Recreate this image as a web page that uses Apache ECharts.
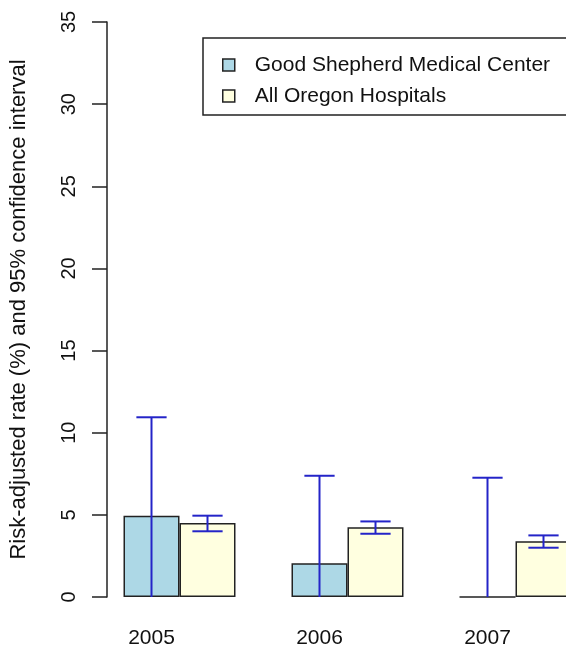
<!DOCTYPE html>
<html>
<head>
<meta charset="utf-8">
<script src="https://cdn.jsdelivr.net/npm/echarts@6/dist/echarts.min.js"></script>
<style>html,body{margin:0;padding:0;background:#fff;width:566px;height:656px;overflow:hidden;}#c{width:600px;height:656px;}</style>
</head>
<body>
<div id="c"></div>
<script>
var years = ['2005', '2006', '2007'];
var seriesNames = ['Good Shepherd Medical Center', 'All Oregon Hospitals'];
var gsValues = [4.95, 2.05, 0];
var gsLow = [0, 0, 0];
var gsHigh = [10.94, 7.38, 7.26];
var orValues = [4.5, 4.25, 3.4];
var orLow = [4.0, 3.85, 3.0];
var orHigh = [4.95, 4.6, 3.75];
var yTicks = [0, 5, 10, 15, 20, 25, 30, 35];

var FONT = 'Liberation Sans, Arial, sans-serif';
var ERR = '#2424c8';

function errSeries(low, high, side) {
  var data = years.map(function (y, i) { return [i, low[i], high[i]]; });
  return {
    type: 'custom',
    silent: true,
    z: 10,
    data: data,
    encode: { x: 0, y: [1, 2] },
    renderItem: function (params, api) {
      var idx = api.value(0);
      var band = api.size([1, 0])[0];
      var pLow = api.coord([idx, api.value(1)]);
      var pHigh = api.coord([idx, api.value(2)]);
      var cx = pLow[0] + side * band / 6;
      var half = band * 0.09;
      var st = { stroke: ERR, lineWidth: 2 };
      var children = [
        { type: 'line', shape: { x1: cx, y1: pLow[1], x2: cx, y2: pHigh[1] }, style: st },
        { type: 'line', shape: { x1: cx - half, y1: pHigh[1], x2: cx + half, y2: pHigh[1] }, style: st }
      ];
      if (api.value(1) > 0) {
        children.push({ type: 'line', shape: { x1: cx - half, y1: pLow[1], x2: cx + half, y2: pLow[1] }, style: st });
      }
      return { type: 'group', children: children };
    }
  };
}

var chart = echarts.init(document.getElementById('c'));
chart.setOption({
  animation: false,
  backgroundColor: '#fff',
  textStyle: { fontFamily: FONT },
  grid: { left: 95.5, top: 22, width: 504, height: 575, containLabel: false },
  legend: {
    data: seriesNames,
    orient: 'vertical',
    left: 203,
    top: 38,
    backgroundColor: '#fff',
    borderColor: '#222',
    borderWidth: 1.5,
    borderRadius: 0,
    padding: [16.5, 40, 8.5, 19],
    itemGap: 10,
    itemWidth: 12,
    itemHeight: 12,
    icon: 'rect',
    itemStyle: { borderColor: '#222', borderWidth: 1.5 },
    textStyle: { fontSize: 21, color: '#111', fontFamily: FONT, padding: [0, 0, 0, 15], lineHeight: 21 },
    selectedMode: false
  },
  xAxis: {
    type: 'category',
    data: years,
    axisLine: { show: false },
    axisTick: { show: false },
    splitLine: { show: false },
    axisLabel: { fontSize: 21, color: '#111', fontFamily: FONT, margin: 31, padding: [0, 56, 0, 0] }
  },
  yAxis: {
    type: 'value',
    min: 0,
    max: 35,
    interval: 5,
    offset: -11.5,
    name: 'Risk-adjusted rate (%) and 95% confidence interval',
    nameLocation: 'middle',
    nameGap: 77,
    nameTextStyle: { fontSize: 22, color: '#111', fontFamily: FONT },
    axisLine: { show: true, lineStyle: { color: '#222', width: 1.5 } },
    axisTick: { show: true, length: 15, lineStyle: { color: '#222', width: 1.5 } },
    splitLine: { show: false },
    axisLabel: { rotate: 90, fontSize: 20, color: '#111', fontFamily: FONT, margin: 28 }
  },
  series: [
    {
      name: seriesNames[0],
      type: 'bar',
      data: gsValues,
      barWidth: '33.333%',
      barGap: '0%',
      itemStyle: { color: '#add8e6', borderColor: '#222', borderWidth: 1.5 }
    },
    {
      name: seriesNames[1],
      type: 'bar',
      data: orValues,
      barWidth: '33.333%',
      barGap: '0%',
      itemStyle: { color: '#ffffe0', borderColor: '#222', borderWidth: 1.5 }
    },
    errSeries(gsLow, gsHigh, -1),
    errSeries(orLow, orHigh, 1)
  ]
});
</script>
</body>
</html>
